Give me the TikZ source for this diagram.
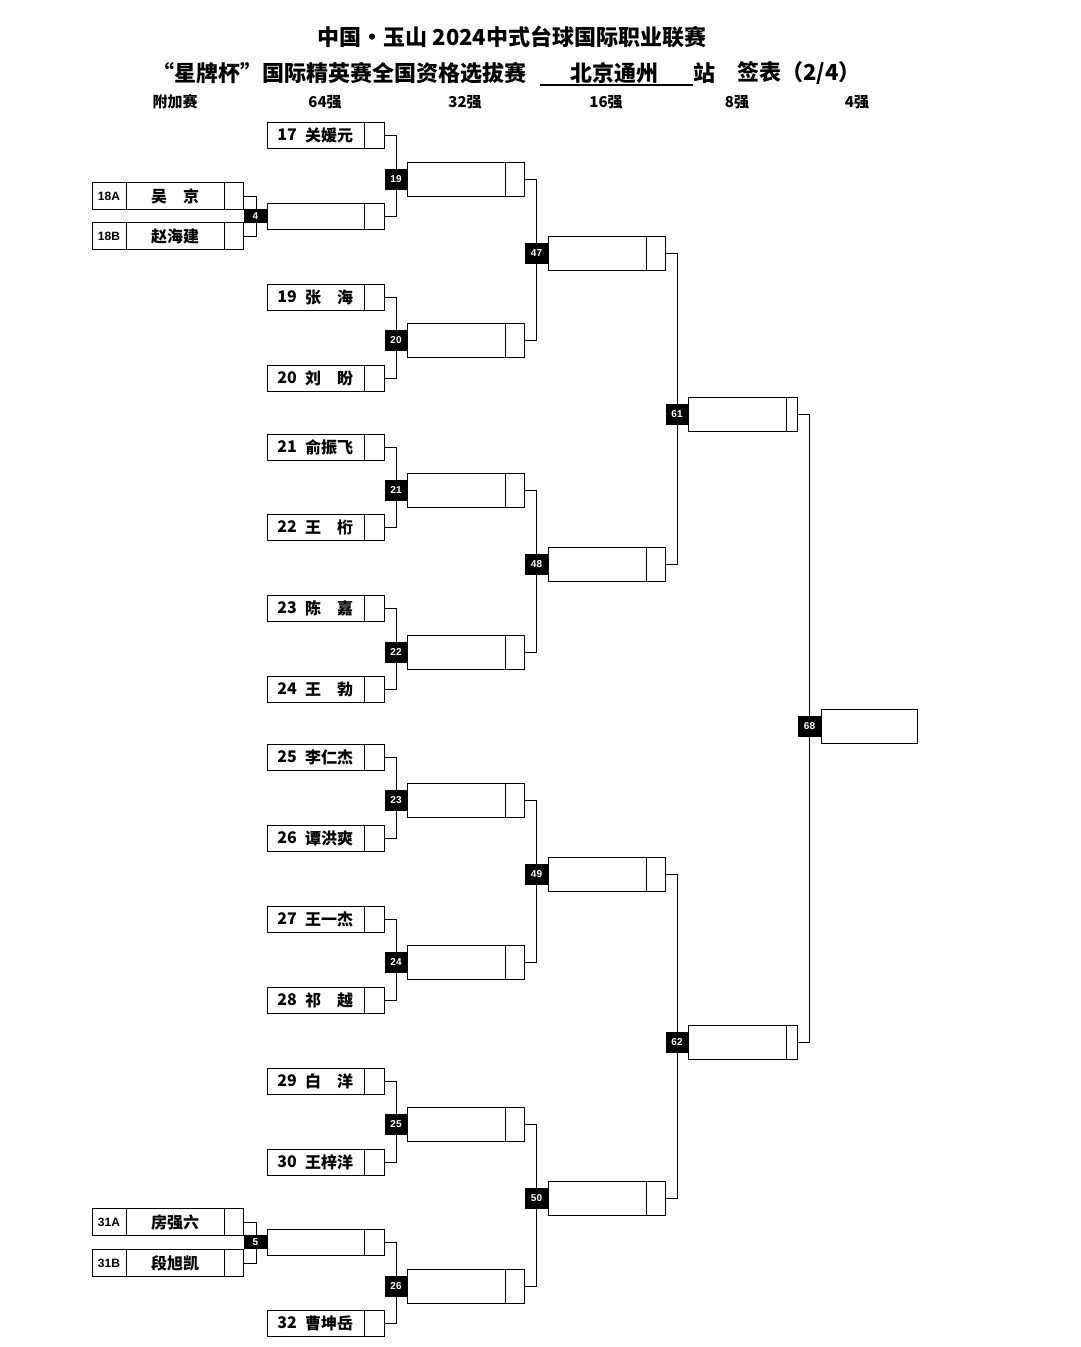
\documentclass[tikz,border=0pt]{standalone}
\usepackage{fontspec}
\setmainfont{Liberation Sans}
\newfontfamily\cjk{Noto Sans CJK SC}
\newcommand\mkslot[6]{%
  \node[slot, minimum width=#4, minimum height=#5, anchor=west] (#1) at (#2,#3) {};
  \node[slot, minimum width=#6, minimum height=#5, anchor=east] (#1-s) at (#1.east) {};
}
\begin{document}
\begin{tikzpicture}[x=1pt,y=-1pt,
  slot/.style={draw, line width=1.0pt, inner sep=0pt, outer sep=0pt},
  conn/.style={line width=1.0pt},
  mlabel/.style={fill=black, text=white, inner sep=0pt, minimum width=23, minimum height=21, font=\bfseries\fontsize{10}{10}\selectfont},
  qlabel/.style={fill=black, text=white, inner sep=0pt, minimum width=24, minimum height=14, font=\bfseries\fontsize{10}{10}\selectfont},
  pnum/.style={inner sep=0pt, font=\cjk\bfseries\fontsize{16}{16}\selectfont},
  pname/.style={inner sep=0pt, font=\cjk\bfseries\fontsize{16}{16}\selectfont},
  qtag/.style={inner sep=0pt, font=\bfseries\fontsize{12}{12}\selectfont},
  ttl/.style={inner sep=0pt, font=\cjk\bfseries\fontsize{22}{22}\selectfont},
  hdr/.style={inner sep=0pt, font=\cjk\bfseries\fontsize{15}{15}\selectfont}
]
\useasboundingbox (0,0) rectangle (1080,1347);
\fill[white] (0,0) rectangle (1080,1347);

% titles
\node[ttl] (title1) at (512,37) {中国•玉山 2024中式台球国际职业联赛};
\node[ttl, anchor=east] (t2a) at (527,73) {“星牌杯”国际精英赛全国资格选拔赛};
\node[ttl] (t2b) at (614,73) {北京通州};
\coordinate (ul1) at (540,85);
\coordinate (ul2) at (693,85);
\draw[line width=1.3pt] (ul1) -- (ul2);
\node[ttl] (t2c) at (704,73) {站};
\node[ttl, anchor=west] (t2d) at (737,73) {签表（2/4）};

% header row
\node[hdr] (h0) at (175,102) {附加赛};
\node[hdr] (h1) at (325,102) {64强};
\node[hdr] (h2) at (465,102) {32强};
\node[hdr] (h3) at (606,102) {16强};
\node[hdr] (h4) at (737,102) {8强};
\node[hdr] (h5) at (857,102) {4强};

% qualifiers
\foreach \id/\y/\tag/\nm in {q18a/196/18A/{吴\hspace{1em}京}, q18b/236/18B/赵海建, q31a/1222/31A/房强六, q31b/1263/31B/段旭凯}{
  \mkslot{\id}{92}{\y}{151}{27}{19}
  \node[slot, minimum width=34, minimum height=27, anchor=west, qtag] (\id-tag) at (\id.west) {\tag};
  \node[pname] (\id-name) at (175,\y) {\nm};
}

% round of 64 players
\foreach \id/\y/\nm in {17/135/关媛元, 19/297/{张\hspace{1em}海}, 20/378/{刘\hspace{1em}盼}, 21/447/俞振飞, 22/527/{王\hspace{1em}桁}, 23/608/{陈\hspace{1em}嘉}, 24/689/{王\hspace{1em}勃}, 25/757/李仁杰, 26/838/谭洪爽, 27/919/王一杰, 28/1000/{祁\hspace{1em}越}, 29/1081/{白\hspace{1em}洋}, 30/1162/王梓洋, 32/1323/曹坤岳}{
  \mkslot{p\id}{267}{\y}{117}{26}{20}
  \node[pnum] (n\id) at (287,\y) {\id};
  \node[pname] (t\id) at (329,\y) {\nm};
}

% qualifier matches
\mkslot{p18}{267.5}{216}{117}{26}{20}
\mkslot{p31}{267.5}{1242}{117}{26}{20}
\draw[conn] (q18a-s.east) -- ++(13,0) |- (q18b-s.east);
\draw[conn] (q31a-s.east) -- ++(13,0) |- (q31b-s.east);
\node[qlabel] (m4) at (255.5,216) {4};
\node[qlabel] (m5) at (255.5,1242) {5};

% round of 64 -> 32
\foreach \a/\b/\m/\y in {17/18/19/179, 19/20/20/340, 21/22/21/490, 23/24/22/652, 25/26/23/800, 27/28/24/962, 29/30/25/1124, 31/32/26/1286}{
  \draw[conn] (p\a-s.east) -- ++(12,0) |- (p\b-s.east);
  \node[mlabel] (m\m) at (396,\y) {\m};
  \mkslot{b\m}{407.5}{\y}{117}{34}{19}
}

% round of 32 -> 16
\foreach \a/\b/\m/\y in {19/20/47/253, 21/22/48/564, 23/24/49/874, 25/26/50/1198}{
  \draw[conn] (b\a-s.east) -- ++(12,0) |- (b\b-s.east);
  \node[mlabel] (m\m) at (536.5,\y) {\m};
  \mkslot{c\m}{548}{\y}{117}{34}{19}
}

% round of 16 -> 8
\foreach \a/\b/\m/\y in {47/48/61/414, 49/50/62/1042}{
  \draw[conn] (c\a-s.east) -- ++(12,0) |- (c\b-s.east);
  \node[mlabel] (m\m) at (677,\y) {\m};
  \mkslot{d\m}{688.5}{\y}{109}{34}{11}
}

% round of 8 -> 4
\draw[conn] (d61-s.east) -- ++(12,0) |- (d62-s.east);
\node[mlabel] (m68) at (809.5,726) {68};
\node[slot, minimum width=96, minimum height=34, anchor=west] (e68) at (m68.east) {};
\end{tikzpicture}
\end{document}
